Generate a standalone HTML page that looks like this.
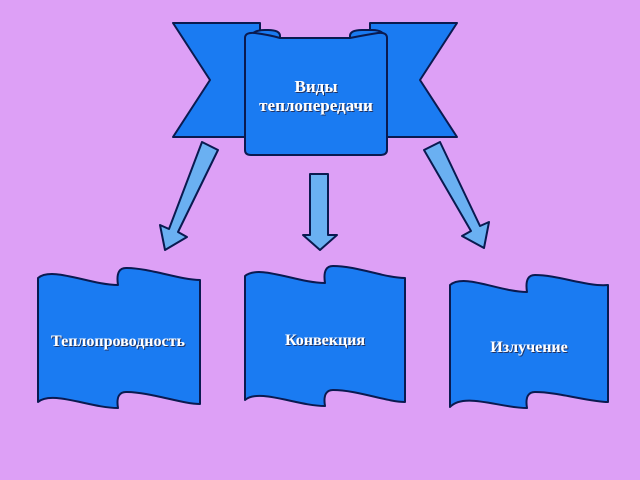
<!DOCTYPE html>
<html><head><meta charset="utf-8"><style>
html,body{margin:0;padding:0;background:#DDA0F6;}
svg{display:block}
text{font-family:"Liberation Serif",serif;font-weight:bold;font-size:16px;fill:#fff;text-anchor:middle}
</style></head><body>
<svg width="640" height="480" viewBox="0 0 640 480" xmlns="http://www.w3.org/2000/svg">
<defs>
<filter id="sh" x="-10%" y="-10%" width="120%" height="130%"><feDropShadow dx="1" dy="1" stdDeviation="0.3" flood-color="#203060"/></filter>
</defs>
<g stroke="#0A1A50" stroke-width="2" stroke-linejoin="round">
<polygon points="173,23 260,23 260,137 173,137 210,80" fill="#1A7BF2"/>
<polygon points="457,23 370,23 370,137 457,137 420,80" fill="#1A7BF2"/>
<path d="M251,40 Q250,30 265,30 L268,30 Q280,30 280,36 L280,42 Z" fill="#1A7BF2"/>
<path d="M350,42 L350,36 Q350,30 362,30 L372,30 Q386,30 384,40 Z" fill="#1A7BF2"/>
<path d="M245,38 Q245,32 255,33 Q270,35 280,38 L350,38 Q365,35 378,33 Q387,32 387,38 L387,150 Q387,155 380,155 L251,155 Q245,155 245,150 Z" fill="#1A7BF2"/>
<g fill="#6AB0F2">
<polygon points="202,142 218,150 178,232 187,237 165,250 160,225 169,229"/>
<polygon points="310,174 328,174 328,235 337,235 320,250 303,235 310,235"/>
<polygon points="424,150 440,142 480,226 489,222 484,248 462,236 471,231"/>
</g>
<path d="M38,278 C52,266 90,285 118,285 C116,272 120,268 126,268 C150,268 180,280 200,280 L200,404 C182,404 150,392 126,392 C120,392 116,396 118,408 C90,408 52,390 38,402 Z" fill="#1A7BF2"/>
<path d="M245,276 C259,264 297,283 325,283 C323,270 327,266 333,266 C357,266 385,278 405,278 L405,402 C387,402 357,390 333,390 C327,390 323,394 325,406 C297,406 259,388 245,400 Z" fill="#1A7BF2"/>
<path d="M450,285 C464,273 500,292 527,292 C525,279 529,275 535,275 C558,275 588,287 608,285 L608,402 C590,402 558,392 535,392 C529,392 525,396 527,408 C500,408 464,392 450,407 Z" fill="#1A7BF2"/>
</g>
<g filter="url(#sh)">
<text x="316" y="92" style="font-size:17px">Виды</text>
<text x="316" y="111" style="font-size:17px">теплопередачи</text>
<text x="118" y="346">Теплопроводность</text>
<text x="325" y="345">Конвекция</text>
<text x="529" y="352">Излучение</text>
</g>
</svg>
</body></html>
